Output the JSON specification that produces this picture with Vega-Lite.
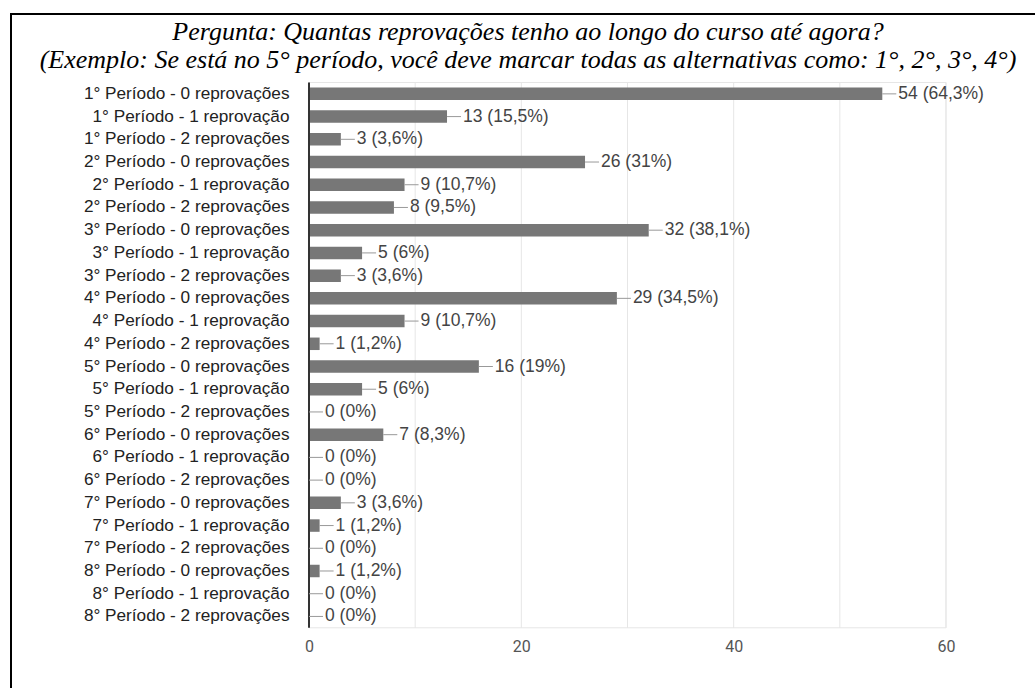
{
  "$schema": "https://vega.github.io/schema/vega-lite/v6.json",
  "autosize": {"type": "none"},
  "padding": {"left": 11, "top": 14, "right": 0, "bottom": 0},
  "width": 1034,
  "height": 690,
  "background": "#ffffff",
  "view": {"stroke": "#000000", "strokeWidth": 2},
  "title": {
    "text": ["Pergunta: Quantas reprovações tenho ao longo do curso até agora?", "(Exemplo: Se está no 5° período, você deve marcar todas as alternativas como: 1°, 2°, 3°, 4°)"],
    "font": "Liberation Serif",
    "fontStyle": "italic",
    "fontWeight": "normal",
    "fontSize": 26,
    "color": "#000000",
    "lineHeight": 28,
    "anchor": "middle",
    "frame": "group",
    "baseline": "top",
    "offset": -54,
    "dy": 5
  },
  "data": {"values": [
    {"cat": "1° Período - 0 reprovações", "n": 54, "label": "54 (64,3%)"},
    {"cat": "1° Período - 1 reprovação", "n": 13, "label": "13 (15,5%)"},
    {"cat": "1° Período - 2 reprovações", "n": 3, "label": "3 (3,6%)"},
    {"cat": "2° Período - 0 reprovações", "n": 26, "label": "26 (31%)"},
    {"cat": "2° Período - 1 reprovação", "n": 9, "label": "9 (10,7%)"},
    {"cat": "2° Período - 2 reprovações", "n": 8, "label": "8 (9,5%)"},
    {"cat": "3° Período - 0 reprovações", "n": 32, "label": "32 (38,1%)"},
    {"cat": "3° Período - 1 reprovação", "n": 5, "label": "5 (6%)"},
    {"cat": "3° Período - 2 reprovações", "n": 3, "label": "3 (3,6%)"},
    {"cat": "4° Período - 0 reprovações", "n": 29, "label": "29 (34,5%)"},
    {"cat": "4° Período - 1 reprovação", "n": 9, "label": "9 (10,7%)"},
    {"cat": "4° Período - 2 reprovações", "n": 1, "label": "1 (1,2%)"},
    {"cat": "5° Período - 0 reprovações", "n": 16, "label": "16 (19%)"},
    {"cat": "5° Período - 1 reprovação", "n": 5, "label": "5 (6%)"},
    {"cat": "5° Período - 2 reprovações", "n": 0, "label": "0 (0%)"},
    {"cat": "6° Período - 0 reprovações", "n": 7, "label": "7 (8,3%)"},
    {"cat": "6° Período - 1 reprovação", "n": 0, "label": "0 (0%)"},
    {"cat": "6° Período - 2 reprovações", "n": 0, "label": "0 (0%)"},
    {"cat": "7° Período - 0 reprovações", "n": 3, "label": "3 (3,6%)"},
    {"cat": "7° Período - 1 reprovação", "n": 1, "label": "1 (1,2%)"},
    {"cat": "7° Período - 2 reprovações", "n": 0, "label": "0 (0%)"},
    {"cat": "8° Período - 0 reprovações", "n": 1, "label": "1 (1,2%)"},
    {"cat": "8° Período - 1 reprovação", "n": 0, "label": "0 (0%)"},
    {"cat": "8° Período - 2 reprovações", "n": 0, "label": "0 (0%)"}
  ]},
  "layer": [
    {
      "data": {"values": [{"g": 10}, {"g": 20}, {"g": 30}, {"g": 40}, {"g": 50}, {"g": 60}]},
      "mark": {"type": "rule", "color": "#e6e6e6", "strokeWidth": 1},
      "encoding": {
        "x": {"field": "g", "type": "quantitative"},
        "y": {"datum": "1° Período - 0 reprovações", "type": "nominal", "bandPosition": -0.409},
        "y2": {"datum": "8° Período - 2 reprovações", "bandPosition": 1.409}
      }
    },
    {
      "data": {"values": [{"g": 0}]},
      "mark": {"type": "rect", "fill": null, "stroke": "#e6e6e6", "strokeWidth": 1},
      "encoding": {
        "x": {"field": "g", "type": "quantitative"},
        "x2": {"datum": 60},
        "y": {"datum": "1° Período - 0 reprovações", "type": "nominal", "bandPosition": -0.409},
        "y2": {"datum": "8° Período - 2 reprovações", "bandPosition": 1.409}
      }
    },
    {
      "mark": {"type": "bar", "color": "#777777"},
      "encoding": {
        "y": {
          "field": "cat", "type": "nominal", "sort": null,
          "scale": {
            "domain": ["1° Período - 0 reprovações", "1° Período - 1 reprovação", "1° Período - 2 reprovações", "2° Período - 0 reprovações", "2° Período - 1 reprovação", "2° Período - 2 reprovações", "3° Período - 0 reprovações", "3° Período - 1 reprovação", "3° Período - 2 reprovações", "4° Período - 0 reprovações", "4° Período - 1 reprovação", "4° Período - 2 reprovações", "5° Período - 0 reprovações", "5° Período - 1 reprovação", "5° Período - 2 reprovações", "6° Período - 0 reprovações", "6° Período - 1 reprovação", "6° Período - 2 reprovações", "7° Período - 0 reprovações", "7° Período - 1 reprovação", "7° Período - 2 reprovações", "8° Período - 0 reprovações", "8° Período - 1 reprovação", "8° Período - 2 reprovações"],
            "range": [68.5, 613.8],
            "paddingInner": 0.45, "paddingOuter": 0.225, "align": 0.5
          },
          "axis": {"title": null, "domain": false, "ticks": false, "tickSize": 0, "grid": false, "labelPadding": -278, "labelFontSize": 17.2, "labelFont": "Liberation Sans", "labelColor": "#222222", "labelLimit": 600, "labelOverlap": false, "labelBound": false}
        },
        "x": {
          "field": "n", "type": "quantitative",
          "scale": {"domain": [-28.069, 69.325], "nice": false, "zero": false},
          "axis": {"title": null, "values": [0, 20, 40, 60], "domain": false, "ticks": false, "grid": false, "offset": -76, "labelPadding": 10, "labelFontSize": 16, "labelFont": "Roboto", "labelColor": "#555555", "labelFlush": false}
        }
      }
    },
    {
      "data": {"values": [{"g": 0}]},
      "mark": {"type": "rule", "color": "#333333", "strokeWidth": 2},
      "encoding": {
        "x": {"field": "g", "type": "quantitative"},
        "y": {"datum": "1° Período - 0 reprovações", "type": "nominal", "bandPosition": -0.409},
        "y2": {"datum": "8° Período - 2 reprovações", "bandPosition": 1.409}
      }
    },
    {
      "mark": {"type": "rule", "color": "#999999", "strokeWidth": 1, "x2Offset": 14},
      "encoding": {
        "y": {"field": "cat", "type": "nominal", "sort": null},
        "x": {"field": "n", "type": "quantitative"},
        "x2": {"field": "n"}
      }
    },
    {
      "mark": {"type": "text", "align": "left", "baseline": "middle", "dx": 16, "font": "Liberation Sans", "fontSize": 17.5, "color": "#444444"},
      "encoding": {
        "y": {"field": "cat", "type": "nominal", "sort": null},
        "x": {"field": "n", "type": "quantitative"},
        "text": {"field": "label"}
      }
    }
  ]
}
